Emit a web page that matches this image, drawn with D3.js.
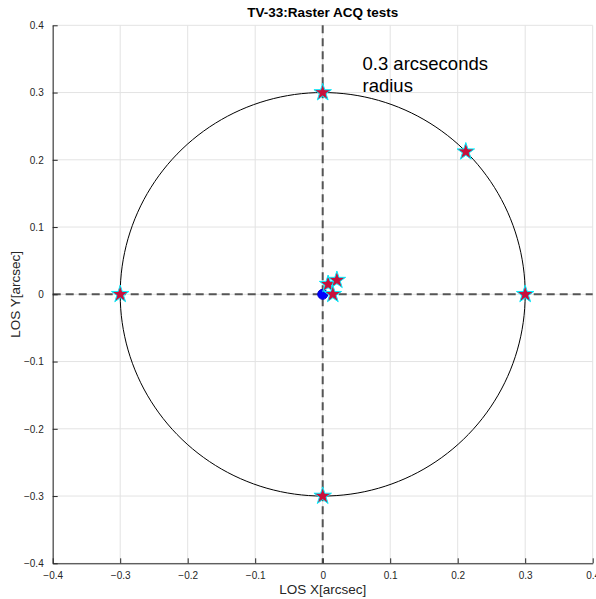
<!doctype html>
<html>
<head>
<meta charset="UTF-8">
<title>TV-33 Raster ACQ tests</title>
<script src="https://d3js.org/d3.v7.min.js"></script>
<style>
body { margin: 0; background: #fff; }
svg { font-family: "Liberation Sans", Arial, sans-serif; }
.grid line { stroke: #e3e3e3; stroke-width: 1; }
.axis path, .axis line { stroke: #262626; }
.axis text { fill: #262626; font-size: 10px; }
</style>
</head>
<body>
<script>
// star positions (arcsec)
var starX = [0, 0.212, 0.3, 0, -0.3, 0.008, 0.021, 0.015];
var starY = [0.3, 0.212, 0, -0.3, 0, 0.015, 0.021, 0.0];
// blue reference point
var refX = [0];
var refY = [0];
var ticks = [-0.4, -0.3, -0.2, -0.1, 0, 0.1, 0.2, 0.3, 0.4];
var circleRadius = 0.3;

var W = 596, H = 599;
var margin = {left: 52.7, top: 25.3, right: 3.3, bottom: 35.7};

var x = d3.scaleLinear().domain([-0.4, 0.4]).range([margin.left, W - margin.right]);
var y = d3.scaleLinear().domain([-0.4, 0.4]).range([H - margin.bottom, margin.top]);

var svg = d3.select("body").append("svg")
    .attr("width", W)
    .attr("height", H);

// grid
var grid = svg.append("g").attr("class", "grid");
grid.selectAll(".gx").data(ticks).enter().append("line")
    .attr("x1", d => x(d)).attr("x2", d => x(d))
    .attr("y1", y(-0.4)).attr("y2", y(0.4));
grid.selectAll(".gy").data(ticks).enter().append("line")
    .attr("y1", d => y(d)).attr("y2", d => y(d))
    .attr("x1", x(-0.4)).attr("x2", x(0.4));

// circle of radius 0.3
var th = d3.range(0, 361, 2).map(a => a * Math.PI / 180);
svg.append("path")
    .datum(th)
    .attr("fill", "none")
    .attr("stroke", "#000")
    .attr("stroke-width", 1)
    .attr("d", d3.line()
        .x(t => x(circleRadius * Math.cos(t)))
        .y(t => y(circleRadius * Math.sin(t))));

// dashed cross hairs
svg.append("line")
    .attr("x1", x(0)).attr("x2", x(0))
    .attr("y1", y(0.4)).attr("y2", y(-0.4))
    .attr("stroke", "#555").attr("stroke-width", 2)
    .attr("stroke-dasharray", "8,5");
svg.append("line")
    .attr("x1", x(-0.4)).attr("x2", x(0.4))
    .attr("y1", y(0)).attr("y2", y(0))
    .attr("stroke", "#555").attr("stroke-width", 2)
    .attr("stroke-dasharray", "8,5");

// axes (ticks inward)
var xAxis = d3.axisBottom(x).tickValues(ticks).tickSizeInner(-5).tickSizeOuter(0)
    .tickPadding(9).tickFormat(d3.format(""));
var yAxis = d3.axisLeft(y).tickValues(ticks).tickSizeInner(-5).tickSizeOuter(0)
    .tickPadding(9).tickFormat(d3.format(""));

svg.append("g").attr("class", "axis")
    .attr("transform", "translate(0," + y(-0.4) + ")")
    .call(xAxis);
svg.append("g").attr("class", "axis")
    .attr("transform", "translate(" + x(-0.4) + ",0)")
    .call(yAxis);

// blue point
svg.selectAll(".ref").data(refX).enter().append("circle")
    .attr("cx", (d, i) => x(refX[i]))
    .attr("cy", (d, i) => y(refY[i]))
    .attr("r", 5)
    .attr("fill", "#0000ff")
    .attr("stroke", "#0000cc");

// stars
var star = d3.symbol().type(d3.symbolStar).size(95);
svg.selectAll(".star").data(starX).enter().append("path")
    .attr("d", star)
    .attr("transform", (d, i) => "translate(" + x(starX[i]) + "," + y(starY[i]) + ")")
    .attr("fill", "#c8103c")
    .attr("stroke", "#00f0ff")
    .attr("stroke-width", 1);

// title
svg.append("text")
    .attr("x", x(0)).attr("y", 17)
    .attr("text-anchor", "middle")
    .style("font-size", "13.5px").style("font-weight", "bold")
    .attr("fill", "#000")
    .text("TV-33:Raster ACQ tests");

// annotation
var ann = svg.append("text")
    .attr("x", x(0.059)).attr("y", 70)
    .style("font-size", "18.5px")
    .attr("fill", "#000");
ann.append("tspan").attr("x", x(0.059)).attr("dy", 0).text("0.3 arcseconds");
ann.append("tspan").attr("x", x(0.059)).attr("dy", 22).text("radius");

// axis labels
svg.append("text")
    .attr("x", x(0)).attr("y", 594)
    .attr("text-anchor", "middle")
    .style("font-size", "13.5px").attr("fill", "#262626")
    .text("LOS X[arcsec]");
svg.append("text")
    .attr("transform", "translate(20," + y(0) + ") rotate(-90)")
    .attr("text-anchor", "middle")
    .style("font-size", "13.5px").attr("fill", "#262626")
    .text("LOS Y[arcsec]");
</script>
</body>
</html>
